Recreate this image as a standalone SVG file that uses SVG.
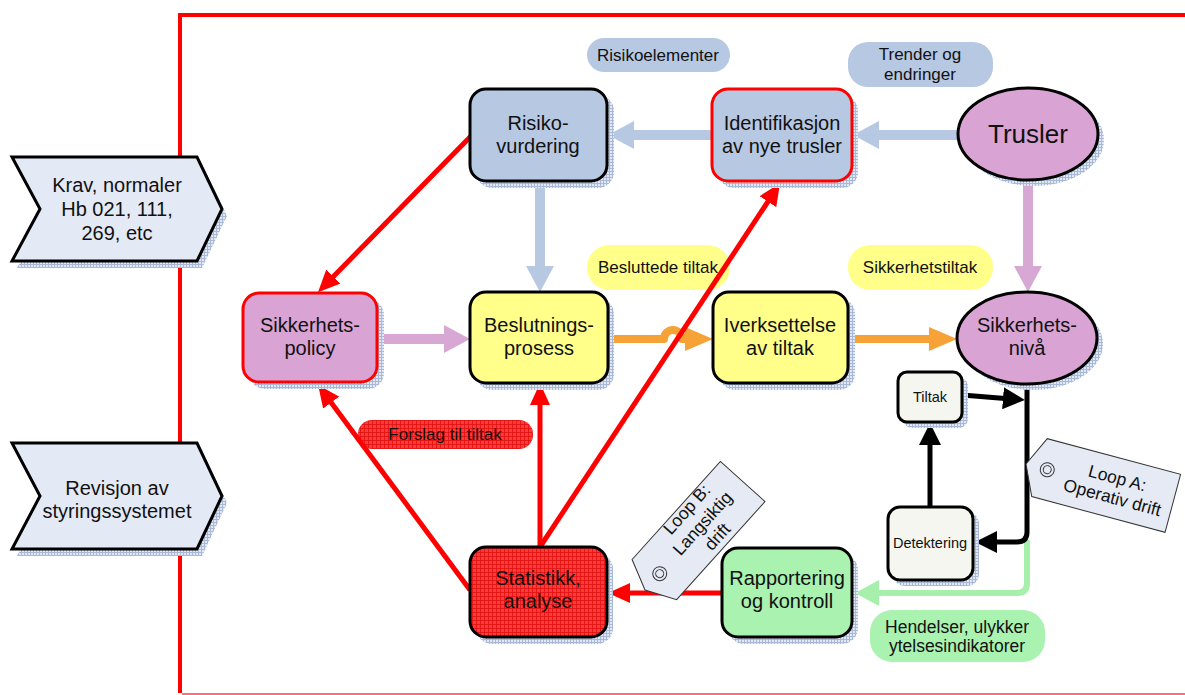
<svg xmlns="http://www.w3.org/2000/svg" width="1185" height="695" viewBox="0 0 1185 695">
  <defs>
    <!-- hatched drop shadow -->
    <pattern id="shade" width="3" height="3" patternUnits="userSpaceOnUse">
      <rect width="3" height="3" fill="#e2e8f3"/>
      <path d="M0,0.5 H3 M0.5,0 V3" stroke="#a7b9d6" stroke-width="1"/>
    </pattern>
    <!-- red checked fill -->
    <pattern id="redgrid" width="4" height="4" patternUnits="userSpaceOnUse">
      <rect width="4" height="4" fill="#ff3a3a"/>
      <path d="M0,0.5 H4 M0.5,0 V4" stroke="#e01010" stroke-width="0.8"/>
    </pattern>
    <marker id="hRed" markerUnits="userSpaceOnUse" markerWidth="22" markerHeight="20" refX="2" refY="10" orient="auto">
      <path d="M0,0 L22,10 L0,20 z" fill="#ff0000"/>
    </marker>
    <marker id="hBlue" markerUnits="userSpaceOnUse" markerWidth="26" markerHeight="28" refX="2" refY="14" orient="auto">
      <path d="M0,0 L26,14 L0,28 z" fill="#b6c8e2"/>
    </marker>
    <marker id="hPlum" markerUnits="userSpaceOnUse" markerWidth="26" markerHeight="28" refX="2" refY="14" orient="auto">
      <path d="M0,0 L26,14 L0,28 z" fill="#d6a8d3"/>
    </marker>
    <marker id="hOrange" markerUnits="userSpaceOnUse" markerWidth="28" markerHeight="24" refX="2" refY="12" orient="auto">
      <path d="M0,0 L28,12 L0,24 z" fill="#f7a236"/>
    </marker>
    <marker id="hBlack" markerUnits="userSpaceOnUse" markerWidth="22" markerHeight="22" refX="2" refY="11" orient="auto">
      <path d="M0,0 L22,11 L0,22 z" fill="#000"/>
    </marker>
    <marker id="hGreen" markerUnits="userSpaceOnUse" markerWidth="24" markerHeight="26" refX="2" refY="13" orient="auto">
      <path d="M0,0 L24,13 L0,26 z" fill="#a6f0ac"/>
    </marker>
    <style>
      text { font-family: "Liberation Sans", Arial, sans-serif; fill: #111; text-anchor: middle; }
      .big { font-size: 20px; }
      .lbl { font-size: 17px; }
      .sm { font-size: 14.5px; }
      .shadow { fill: url(#shade); }
      .box { stroke: #000; stroke-width: 3; }
      .rbox { stroke: #ff0000; stroke-width: 3; }
      .blue { fill: #b7c8e2; }
      .plum { fill: #d9a3d4; }
      .yellow { fill: #ffff8a; }
      .green { fill: #a9f2b0; }
      .pale { fill: #f4f6ef; }
      .chev { fill: #e4eaf5; stroke: #000; stroke-width: 3; stroke-linejoin: miter; }
      .tag { fill: #e6eaf4; stroke: #333; stroke-width: 1; }
      .c { fill: none; stroke-linejoin: round; }
      .cRed { stroke: #ff0000; stroke-width: 5; }
      .cBlue { stroke: #b6c8e2; stroke-width: 10; }
      .cPlum { stroke: #d6a8d3; stroke-width: 10; }
      .cOrange { stroke: #f7a236; stroke-width: 8; }
      .cBlack { stroke: #000; stroke-width: 5; }
      .cGreen { stroke: #a6f0ac; stroke-width: 6; }
    </style>
  </defs>

  <rect width="1185" height="695" fill="#ffffff"/>

  <!-- red frame -->
  <path d="M1190,15 H180 V693" fill="none" stroke="#ff0000" stroke-width="4"/>
  <line x1="182" y1="694" x2="1190" y2="694" stroke="#ff7070" stroke-width="2"/>

  <!-- inputs on the left -->
  <g id="krav">
    <polygon class="shadow" points="17,164 202,164 227,216 202,268 17,268 45,216"/>
    <polygon class="chev" points="12,157 197,157 222,209 197,261 12,261 40,209"/>
    <text class="big" x="117" y="192">Krav, normaler</text>
    <text class="big" x="117" y="216">Hb 021, 111,</text>
    <text class="big" x="117" y="240">269, etc</text>
  </g>
  <g id="revisjon">
    <polygon class="shadow" points="17,450 202,450 227,503 202,556 17,556 45,503"/>
    <polygon class="chev" points="12,443 197,443 222,496 197,549 12,549 40,496"/>
    <text class="big" x="117" y="495">Revisjon av</text>
    <text class="big" x="117" y="518">styringssystemet</text>
  </g>

  <!-- flow labels -->
  <g id="lbl-risikoelementer">
    <rect x="587" y="38" width="143" height="34" rx="17" class="blue"/>
    <text class="lbl" x="658" y="61">Risikoelementer</text>
  </g>
  <g id="lbl-trender">
    <rect x="848" y="42" width="145" height="45" rx="20" class="blue"/>
    <text class="lbl" x="920" y="60">Trender og</text>
    <text class="lbl" x="920" y="80">endringer</text>
  </g>
  <g id="lbl-besluttede">
    <rect x="587" y="245" width="143" height="45" rx="22" class="yellow"/>
    <text class="lbl" x="658" y="273">Besluttede tiltak</text>
  </g>
  <g id="lbl-sikkerhetstiltak">
    <rect x="848" y="245" width="145" height="45" rx="22" class="yellow"/>
    <text class="lbl" x="920" y="273">Sikkerhetstiltak</text>
  </g>
  <g id="lbl-forslag">
    <rect x="358" y="420" width="175" height="29" rx="14" fill="url(#redgrid)"/>
    <text class="lbl" x="445" y="440">Forslag til tiltak</text>
  </g>
  <g id="lbl-hendelser">
    <rect x="870" y="610" width="175" height="52" rx="22" class="green"/>
    <text class="lbl" x="957" y="633" style="font-size:17.5px">Hendelser, ulykker</text>
    <text class="lbl" x="957" y="652" style="font-size:17.5px">ytelsesindikatorer</text>
  </g>

  <!-- connectors -->
  <g id="connectors">
    <!-- information flow -->
    <line class="c cBlue" x1="958" y1="135" x2="877" y2="135" marker-end="url(#hBlue)"/>
    <line class="c cBlue" x1="712" y1="135" x2="632" y2="135" marker-end="url(#hBlue)"/>
    <line class="c cBlue" x1="540" y1="182" x2="540" y2="268" marker-end="url(#hBlue)"/>
    <line class="c cPlum" x1="1028" y1="180" x2="1028" y2="268" marker-end="url(#hPlum)"/>
    <line class="c cPlum" x1="377" y1="339" x2="446" y2="339" marker-end="url(#hPlum)"/>
    <!-- decisions to measures, with a hop over the red line -->
    <path class="c cOrange" d="M608,339 H664 A9,9 0 0 1 682,339 H687" marker-end="url(#hOrange)"/>
    <line class="c cOrange" x1="848" y1="339" x2="931" y2="339" marker-end="url(#hOrange)"/>
    <!-- long-term loop -->
    <line class="c cRed" x1="472" y1="135" x2="332" y2="278" marker-end="url(#hRed)"/>
    <line class="c cRed" x1="470" y1="590" x2="330" y2="401" marker-end="url(#hRed)"/>
    <line class="c cRed" x1="540" y1="547" x2="540" y2="403" marker-end="url(#hRed)"/>
    <line class="c cRed" x1="540" y1="547" x2="769" y2="200" marker-end="url(#hRed)"/>
    <line class="c cRed" x1="722" y1="593" x2="628" y2="593" marker-end="url(#hRed)"/>
    <!-- operational loop -->
    <path class="c cGreen" d="M1027,540 V583 Q1027,593 1017,593 H877" marker-end="url(#hGreen)"/>
    <path class="c cBlack" d="M1027,385 V532 Q1027,542 1017,542 H995" marker-end="url(#hBlack)"/>
    <line class="c cBlack" x1="930" y1="507" x2="930" y2="443" marker-end="url(#hBlack)"/>
    <line class="c cBlack" x1="962" y1="395" x2="1005" y2="398.4" marker-end="url(#hBlack)"/>
  </g>

  <!-- nodes -->
  <g id="risikovurdering">
    <rect class="shadow" x="476" y="95" width="138" height="93" rx="16"/>
    <rect class="box blue" x="470" y="89" width="137" height="92" rx="16"/>
    <text class="big" x="538" y="130">Risiko-</text>
    <text class="big" x="538" y="153">vurdering</text>
  </g>
  <g id="identifikasjon">
    <rect class="shadow" x="718" y="95" width="140" height="93" rx="16"/>
    <rect class="rbox blue" x="712" y="89" width="140" height="92" rx="16"/>
    <text class="big" x="782" y="130">Identifikasjon</text>
    <text class="big" x="782" y="153">av nye trusler</text>
  </g>
  <g id="trusler">
    <ellipse class="shadow" cx="1034" cy="140" rx="70" ry="46"/>
    <ellipse class="box plum" cx="1028" cy="134" rx="70" ry="46"/>
    <text x="1028" y="143" style="font-size:26px">Trusler</text>
  </g>
  <g id="sikkerhetspolicy">
    <rect class="shadow" x="249" y="299" width="135" height="90" rx="16"/>
    <rect class="rbox plum" x="243" y="293" width="134" height="89" rx="16"/>
    <text class="big" x="310" y="332">Sikkerhets-</text>
    <text class="big" x="310" y="355">policy</text>
  </g>
  <g id="beslutningsprosess">
    <rect class="shadow" x="476" y="298" width="138" height="92" rx="16"/>
    <rect class="box yellow" x="470" y="292" width="138" height="91" rx="16"/>
    <text class="big" x="539" y="332">Beslutnings-</text>
    <text class="big" x="539" y="355">prosess</text>
  </g>
  <g id="iverksettelse">
    <rect class="shadow" x="719" y="298" width="136" height="92" rx="16"/>
    <rect class="box yellow" x="713" y="292" width="135" height="91" rx="16"/>
    <text class="big" x="780" y="332">Iverksettelse</text>
    <text class="big" x="780" y="355">av tiltak</text>
  </g>
  <g id="sikkerhetsniva">
    <ellipse class="shadow" cx="1033" cy="344" rx="70" ry="46"/>
    <ellipse class="box plum" cx="1027" cy="338" rx="70" ry="46"/>
    <text class="big" x="1027" y="332">Sikkerhets-</text>
    <text class="big" x="1027" y="355">nivå</text>
  </g>
  <g id="tiltak">
    <rect class="shadow" x="903" y="377" width="65" height="51" rx="9"/>
    <rect class="box pale" x="898" y="372" width="64" height="50" rx="9"/>
    <text class="sm" x="930" y="402">Tiltak</text>
  </g>
  <g id="detektering">
    <rect class="shadow" x="893" y="512" width="86" height="74" rx="12"/>
    <rect class="box pale" x="888" y="507" width="85" height="73" rx="12"/>
    <text class="sm" x="930" y="548">Detektering</text>
  </g>
  <g id="statistikk">
    <rect class="shadow" x="476" y="553" width="137" height="91" rx="16"/>
    <rect class="box" x="470" y="547" width="137" height="90" rx="16" fill="url(#redgrid)"/>
    <text class="big" x="538" y="585">Statistikk,</text>
    <text class="big" x="538" y="608">analyse</text>
  </g>
  <g id="rapportering">
    <rect class="shadow" x="728" y="554" width="130" height="90" rx="16"/>
    <rect class="box green" x="722" y="548" width="130" height="89" rx="16"/>
    <text class="big" x="787" y="585">Rapportering</text>
    <text class="big" x="787" y="608">og kontroll</text>
  </g>

  <!-- loop tags -->
  <g id="loop-a" transform="translate(1026,464) rotate(15)">
    <polygon class="tag" points="0,0 14,-30 152,-30 152,30 14,30"/>
    <circle cx="22" cy="0" r="7" fill="none" stroke="#333" stroke-width="1"/>
    <circle cx="22" cy="0" r="4" fill="none" stroke="#333" stroke-width="1"/>
    <text x="92" y="-4" style="font-size:17.5px">Loop A:</text>
    <text x="92" y="16" style="font-size:17.5px">Operativ drift</text>
  </g>
  <g id="loop-b" transform="translate(645,590) rotate(-48)">
    <polygon class="tag" points="0,0 14,-30 146,-30 146,30 14,30"/>
    <circle cx="22" cy="0" r="7" fill="none" stroke="#333" stroke-width="1"/>
    <circle cx="22" cy="0" r="4" fill="none" stroke="#333" stroke-width="1"/>
    <text x="88" y="-17" style="font-size:17.5px">Loop B:</text>
    <text x="88" y="4" style="font-size:17.5px">Langsiktig</text>
    <text x="88" y="24" style="font-size:17.5px">drift</text>
  </g>
</svg>
